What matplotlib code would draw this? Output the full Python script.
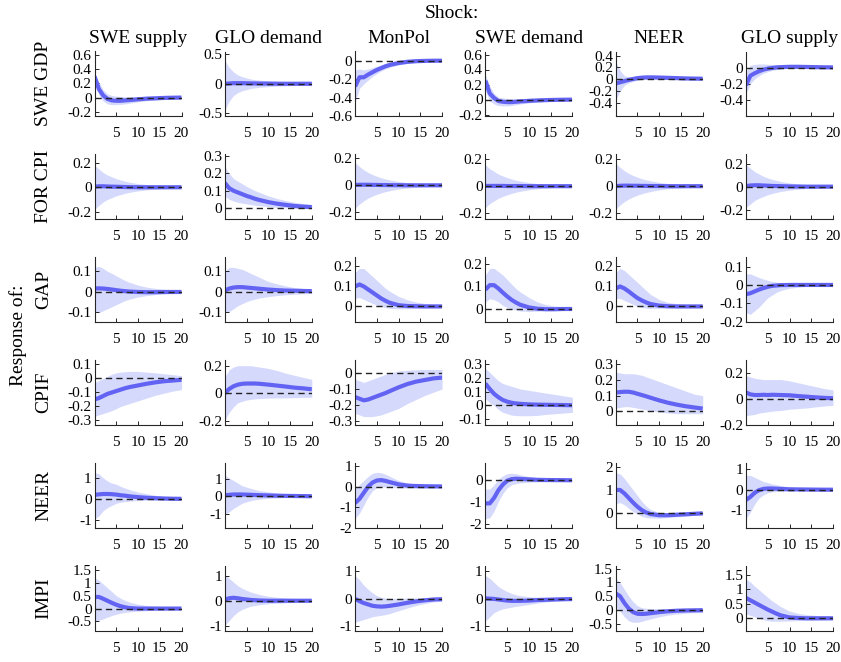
import matplotlib
matplotlib.use("Agg")
import matplotlib.pyplot as plt
from matplotlib.ticker import FuncFormatter

plt.rcParams['font.family'] = ['Liberation Serif', 'DejaVu Serif']
plt.rcParams['axes.unicode_minus'] = False

# horizon grid
horizon = [0, 1, 2, 3, 4, 5, 6, 7, 8, 10, 12, 14, 16, 18, 20]
shocks = ["SWE supply", "GLO demand", "MonPol", "SWE demand", "NEER", "GLO supply"]
responses = ["SWE GDP", "FOR CPI", "GAP", "CPIF", "NEER", "IMPI"]
xticks = [5, 10, 15, 20]

# ---------------- SWE GDP ----------------
gdp_mid = [
    [0.30, 0.12, 0.03, -0.02, -0.04, -0.045, -0.045, -0.04, -0.035, -0.025, -0.015, -0.01, -0.005, -0.002, 0.0],
    [0.0, 0.005, 0.01, 0.01, 0.01, 0.008, 0.006, 0.005, 0.004, 0.002, 0.001, 0.0, 0.0, 0.0, 0.0],
    [-0.28, -0.18, -0.18, -0.15, -0.125, -0.10, -0.08, -0.06, -0.045, -0.025, -0.012, -0.005, -0.002, 0.0, 0.0],
    [0.25, 0.08, 0.02, -0.02, -0.03, -0.035, -0.035, -0.03, -0.025, -0.018, -0.012, -0.008, -0.005, -0.003, -0.002],
    [-0.07, -0.05, -0.03, -0.01, 0.005, 0.02, 0.028, 0.032, 0.033, 0.03, 0.025, 0.02, 0.015, 0.012, 0.01],
    [-0.22, -0.10, -0.07, -0.045, -0.025, -0.012, -0.004, 0.002, 0.006, 0.01, 0.01, 0.008, 0.006, 0.004, 0.003],
]
gdp_lo = [
    [0.26, 0.04, -0.05, -0.09, -0.10, -0.10, -0.095, -0.09, -0.08, -0.06, -0.045, -0.035, -0.025, -0.02, -0.015],
    [-0.45, -0.3, -0.2, -0.15, -0.12, -0.1, -0.08, -0.07, -0.06, -0.05, -0.04, -0.035, -0.03, -0.03, -0.025],
    [-0.45, -0.30, -0.25, -0.21, -0.17, -0.14, -0.11, -0.09, -0.07, -0.045, -0.03, -0.02, -0.012, -0.008, -0.005],
    [0.12, -0.02, -0.06, -0.08, -0.085, -0.085, -0.08, -0.07, -0.06, -0.045, -0.035, -0.025, -0.02, -0.015, -0.012],
    [-0.35, -0.2, -0.1, -0.06, -0.035, -0.015, -0.005, 0.0, 0.003, 0.003, 0.0, -0.003, -0.005, -0.006, -0.007],
    [-0.32, -0.2, -0.14, -0.1, -0.07, -0.05, -0.035, -0.025, -0.015, -0.006, -0.003, -0.004, -0.005, -0.006, -0.006],
]
gdp_hi = [
    [0.34, 0.22, 0.11, 0.05, 0.03, 0.02, 0.015, 0.012, 0.012, 0.012, 0.012, 0.012, 0.012, 0.012, 0.012],
    [0.4, 0.28, 0.2, 0.15, 0.12, 0.1, 0.08, 0.07, 0.06, 0.05, 0.04, 0.035, 0.03, 0.03, 0.025],
    [-0.10, -0.09, -0.10, -0.09, -0.075, -0.06, -0.045, -0.035, -0.025, -0.01, 0.0, 0.005, 0.006, 0.006, 0.006],
    [0.33, 0.18, 0.08, 0.03, 0.02, 0.015, 0.012, 0.01, 0.01, 0.01, 0.01, 0.01, 0.01, 0.01, 0.01],
    [0.3, 0.15, 0.06, 0.045, 0.05, 0.058, 0.063, 0.065, 0.065, 0.06, 0.052, 0.045, 0.038, 0.032, 0.028],
    [-0.05, 0.03, 0.04, 0.045, 0.045, 0.042, 0.04, 0.038, 0.036, 0.032, 0.028, 0.024, 0.02, 0.017, 0.014],
]

# ---------------- FOR CPI ----------------
forcpi_mid = [
    [0.005, 0.008, 0.008, 0.006, 0.005, 0.004, 0.003, 0.002, 0.001, 0.0, 0.0, 0.0, 0.0, 0.0, 0.0],
    [0.145, 0.115, 0.1, 0.09, 0.08, 0.07, 0.062, 0.053, 0.046, 0.034, 0.025, 0.018, 0.012, 0.008, 0.005],
    [0.003, 0.004, 0.004, 0.004, 0.003, 0.003, 0.002, 0.002, 0.001, 0.001, 0.0, 0.0, 0.0, 0.0, 0.0],
    [0.002, 0.002, 0.002, 0.002, 0.002, 0.001, 0.001, 0.001, 0.001, 0.0, 0.0, 0.0, 0.0, 0.0, 0.0],
    [0.0, 0.003, 0.004, 0.004, 0.003, 0.003, 0.002, 0.002, 0.001, 0.001, 0.0, 0.0, 0.0, 0.0, 0.0],
    [0.005, 0.01, 0.012, 0.012, 0.01, 0.008, 0.006, 0.005, 0.004, 0.002, 0.001, 0.0, 0.0, 0.0, 0.0],
]
forcpi_lo = [
    [-0.18, -0.15, -0.12, -0.1, -0.085, -0.07, -0.06, -0.05, -0.042, -0.03, -0.022, -0.016, -0.012, -0.009, -0.007],
    [0.07, 0.05, 0.04, 0.033, 0.028, 0.024, 0.02, 0.016, 0.013, 0.008, 0.004, 0.001, -0.001, -0.002, -0.003],
    [-0.17, -0.14, -0.115, -0.095, -0.08, -0.067, -0.056, -0.047, -0.04, -0.028, -0.02, -0.015, -0.011, -0.008, -0.006],
    [-0.16, -0.13, -0.11, -0.09, -0.076, -0.064, -0.054, -0.045, -0.038, -0.027, -0.019, -0.014, -0.01, -0.008, -0.006],
    [-0.17, -0.14, -0.115, -0.095, -0.08, -0.067, -0.056, -0.047, -0.04, -0.028, -0.02, -0.015, -0.011, -0.008, -0.006],
    [-0.18, -0.15, -0.12, -0.1, -0.085, -0.07, -0.06, -0.05, -0.042, -0.03, -0.022, -0.016, -0.012, -0.009, -0.007],
]
forcpi_hi = [
    [0.18, 0.15, 0.12, 0.1, 0.085, 0.07, 0.06, 0.05, 0.042, 0.03, 0.022, 0.016, 0.012, 0.009, 0.007],
    [0.24, 0.2, 0.17, 0.155, 0.14, 0.125, 0.112, 0.1, 0.09, 0.07, 0.055, 0.043, 0.033, 0.026, 0.02],
    [0.17, 0.14, 0.115, 0.095, 0.08, 0.067, 0.056, 0.047, 0.04, 0.028, 0.02, 0.015, 0.011, 0.008, 0.006],
    [0.16, 0.13, 0.11, 0.09, 0.076, 0.064, 0.054, 0.045, 0.038, 0.027, 0.019, 0.014, 0.01, 0.008, 0.006],
    [0.17, 0.14, 0.115, 0.095, 0.08, 0.067, 0.056, 0.047, 0.04, 0.028, 0.02, 0.015, 0.011, 0.008, 0.006],
    [0.19, 0.16, 0.13, 0.11, 0.09, 0.075, 0.064, 0.054, 0.045, 0.032, 0.023, 0.017, 0.012, 0.009, 0.007],
]

# ---------------- GAP ----------------
gap_mid = [
    [0.015, 0.016, 0.015, 0.013, 0.01, 0.007, 0.004, 0.002, 0.0, -0.002, -0.003, -0.003, -0.002, -0.002, -0.002],
    [0.005, 0.015, 0.02, 0.022, 0.022, 0.02, 0.018, 0.016, 0.014, 0.01, 0.007, 0.005, 0.004, 0.003, 0.002],
    [0.10, 0.11, 0.10, 0.085, 0.07, 0.055, 0.04, 0.028, 0.018, 0.006, 0.002, 0.001, 0.0, 0.0, 0.0],
    [0.085, 0.105, 0.105, 0.09, 0.072, 0.055, 0.04, 0.028, 0.018, 0.006, 0.0, -0.002, -0.002, -0.001, -0.001],
    [0.09, 0.1, 0.09, 0.075, 0.058, 0.042, 0.03, 0.02, 0.012, 0.004, 0.001, 0.0, 0.0, 0.0, 0.0],
    [-0.05, -0.045, -0.035, -0.025, -0.017, -0.01, -0.005, -0.003, -0.001, 0.0, 0.0, 0.0, 0.0, 0.0, 0.0],
]
gap_lo = [
    [-0.10, -0.105, -0.095, -0.085, -0.075, -0.065, -0.055, -0.045, -0.038, -0.027, -0.02, -0.015, -0.012, -0.01, -0.008],
    [-0.1, -0.1, -0.085, -0.07, -0.06, -0.05, -0.043, -0.037, -0.032, -0.025, -0.02, -0.016, -0.013, -0.011, -0.01],
    [0.04, 0.045, 0.035, 0.025, 0.015, 0.006, 0.0, -0.006, -0.01, -0.012, -0.012, -0.01, -0.008, -0.007, -0.006],
    [0.03, 0.045, 0.04, 0.03, 0.015, 0.006, 0.0, -0.006, -0.01, -0.012, -0.011, -0.009, -0.008, -0.007, -0.006],
    [0.04, 0.04, 0.03, 0.02, 0.01, 0.0, -0.005, -0.008, -0.01, -0.01, -0.009, -0.008, -0.007, -0.006, -0.005],
    [-0.15, -0.16, -0.14, -0.12, -0.095, -0.07, -0.055, -0.04, -0.03, -0.018, -0.012, -0.008, -0.007, -0.006, -0.005],
]
gap_hi = [
    [0.12, 0.125, 0.115, 0.1, 0.09, 0.078, 0.066, 0.055, 0.046, 0.032, 0.022, 0.016, 0.011, 0.008, 0.006],
    [0.1, 0.12, 0.12, 0.115, 0.11, 0.1, 0.09, 0.08, 0.07, 0.05, 0.038, 0.028, 0.02, 0.015, 0.012],
    [0.17, 0.19, 0.19, 0.17, 0.15, 0.13, 0.11, 0.09, 0.075, 0.05, 0.033, 0.022, 0.015, 0.012, 0.01],
    [0.15, 0.18, 0.18, 0.165, 0.15, 0.13, 0.11, 0.09, 0.075, 0.05, 0.03, 0.018, 0.012, 0.01, 0.008],
    [0.17, 0.19, 0.18, 0.16, 0.14, 0.12, 0.1, 0.08, 0.06, 0.035, 0.02, 0.014, 0.01, 0.009, 0.008],
    [0.06, 0.06, 0.05, 0.04, 0.032, 0.025, 0.018, 0.015, 0.012, 0.008, 0.006, 0.005, 0.004, 0.003, 0.003],
]

# ---------------- CPIF ----------------
cpif_mid = [
    [-0.15, -0.14, -0.125, -0.11, -0.1, -0.09, -0.08, -0.07, -0.062, -0.05, -0.038, -0.028, -0.02, -0.015, -0.01],
    [0.0, 0.03, 0.05, 0.062, 0.068, 0.07, 0.07, 0.07, 0.068, 0.062, 0.055, 0.048, 0.04, 0.035, 0.028],
    [-0.15, -0.16, -0.17, -0.165, -0.155, -0.145, -0.135, -0.125, -0.113, -0.09, -0.07, -0.055, -0.045, -0.035, -0.03],
    [0.16, 0.12, 0.085, 0.06, 0.04, 0.028, 0.02, 0.015, 0.012, 0.008, 0.006, 0.005, 0.004, 0.003, 0.002],
    [0.12, 0.123, 0.125, 0.125, 0.12, 0.112, 0.104, 0.096, 0.087, 0.07, 0.055, 0.043, 0.033, 0.025, 0.018],
    [0.05, 0.035, 0.03, 0.03, 0.032, 0.03, 0.032, 0.031, 0.03, 0.028, 0.022, 0.017, 0.012, 0.008, 0.005],
]
cpif_lo = [
    [-0.27, -0.26, -0.25, -0.24, -0.23, -0.215, -0.2, -0.19, -0.18, -0.16, -0.14, -0.12, -0.105, -0.09, -0.08],
    [-0.2, -0.14, -0.1, -0.07, -0.06, -0.05, -0.045, -0.042, -0.04, -0.036, -0.035, -0.035, -0.033, -0.031, -0.03],
    [-0.25, -0.26, -0.27, -0.27, -0.27, -0.265, -0.26, -0.25, -0.24, -0.22, -0.19, -0.165, -0.14, -0.12, -0.1],
    [0.05, 0.02, 0.0, -0.03, -0.05, -0.06, -0.07, -0.073, -0.075, -0.075, -0.072, -0.065, -0.06, -0.055, -0.05],
    [0.02, 0.025, 0.03, 0.03, 0.025, 0.02, 0.015, 0.01, 0.005, -0.005, -0.01, -0.015, -0.015, -0.015, -0.015],
    [-0.13, -0.125, -0.12, -0.11, -0.105, -0.1, -0.095, -0.092, -0.09, -0.08, -0.075, -0.07, -0.062, -0.055, -0.05],
]
cpif_hi = [
    [-0.03, -0.015, 0.0, 0.015, 0.03, 0.04, 0.045, 0.048, 0.05, 0.05, 0.045, 0.04, 0.033, 0.027, 0.02],
    [0.12, 0.17, 0.19, 0.2, 0.2, 0.2, 0.2, 0.195, 0.19, 0.18, 0.165, 0.145, 0.13, 0.115, 0.1],
    [-0.04, -0.05, -0.06, -0.05, -0.04, -0.03, -0.02, -0.01, 0.0, 0.01, 0.015, 0.018, 0.02, 0.02, 0.02],
    [0.27, 0.24, 0.21, 0.18, 0.16, 0.15, 0.14, 0.13, 0.12, 0.11, 0.1, 0.09, 0.08, 0.07, 0.06],
    [0.25, 0.245, 0.24, 0.24, 0.24, 0.235, 0.23, 0.22, 0.21, 0.19, 0.17, 0.15, 0.13, 0.11, 0.1],
    [0.18, 0.17, 0.16, 0.155, 0.15, 0.15, 0.15, 0.15, 0.15, 0.14, 0.125, 0.11, 0.095, 0.08, 0.07],
]

# ---------------- NEER ----------------
neer_mid = [
    [0.2, 0.22, 0.24, 0.24, 0.23, 0.21, 0.18, 0.16, 0.13, 0.09, 0.06, 0.04, 0.025, 0.015, 0.01],
    [0.05, 0.08, 0.1, 0.1, 0.1, 0.09, 0.08, 0.07, 0.06, 0.045, 0.03, 0.02, 0.012, 0.006, 0.0],
    [-0.8, -0.6, -0.3, 0.0, 0.2, 0.3, 0.32, 0.28, 0.22, 0.11, 0.05, 0.03, 0.02, 0.015, 0.01],
    [-1.05, -1.05, -0.8, -0.45, -0.2, -0.02, 0.05, 0.07, 0.06, 0.04, 0.02, 0.012, 0.008, 0.004, 0.0],
    [1.0, 1.0, 0.85, 0.65, 0.45, 0.27, 0.12, 0.02, -0.05, -0.1, -0.1, -0.08, -0.06, -0.04, -0.02],
    [-0.5, -0.35, -0.15, -0.02, 0.04, 0.06, 0.06, 0.05, 0.04, 0.02, 0.015, 0.01, 0.005, 0.002, 0.0],
]
neer_lo = [
    [-0.95, -0.8, -0.55, -0.4, -0.3, -0.2, -0.15, -0.12, -0.1, -0.07, -0.06, -0.05, -0.045, -0.04, -0.04],
    [-1.05, -0.9, -0.7, -0.55, -0.4, -0.32, -0.25, -0.2, -0.17, -0.12, -0.1, -0.08, -0.065, -0.055, -0.05],
    [-1.55, -1.3, -0.9, -0.5, -0.2, -0.05, 0.0, -0.02, -0.04, -0.06, -0.07, -0.07, -0.06, -0.055, -0.05],
    [-1.75, -1.7, -1.4, -0.95, -0.6, -0.35, -0.2, -0.15, -0.12, -0.09, -0.075, -0.065, -0.06, -0.055, -0.05],
    [0.4, 0.45, 0.35, 0.2, 0.05, -0.05, -0.15, -0.2, -0.22, -0.23, -0.2, -0.17, -0.14, -0.11, -0.09],
    [-1.4, -1.1, -0.7, -0.4, -0.25, -0.15, -0.1, -0.09, -0.08, -0.06, -0.05, -0.04, -0.035, -0.03, -0.03],
]
neer_hi = [
    [1.25, 1.2, 1.0, 0.85, 0.75, 0.7, 0.6, 0.52, 0.45, 0.33, 0.25, 0.18, 0.13, 0.1, 0.07],
    [1.2, 1.05, 0.9, 0.75, 0.6, 0.52, 0.45, 0.38, 0.32, 0.25, 0.18, 0.13, 0.1, 0.08, 0.07],
    [-0.1, 0.1, 0.3, 0.5, 0.65, 0.7, 0.68, 0.6, 0.5, 0.3, 0.18, 0.12, 0.1, 0.08, 0.07],
    [-0.4, -0.4, -0.2, 0.05, 0.2, 0.3, 0.32, 0.3, 0.25, 0.17, 0.12, 0.09, 0.07, 0.06, 0.05],
    [1.75, 1.7, 1.5, 1.25, 1.0, 0.75, 0.5, 0.3, 0.15, 0.02, 0.0, 0.01, 0.02, 0.03, 0.04],
    [0.7, 0.7, 0.6, 0.5, 0.4, 0.35, 0.28, 0.24, 0.2, 0.13, 0.1, 0.07, 0.055, 0.045, 0.04],
]

# ---------------- IMPI ----------------
impi_mid = [
    [0.45, 0.45, 0.38, 0.3, 0.22, 0.15, 0.09, 0.05, 0.02, 0.0, 0.0, 0.0, 0.0, 0.0, 0.0],
    [0.05, 0.1, 0.12, 0.1, 0.07, 0.05, 0.03, 0.02, 0.01, 0.0, 0.0, 0.0, 0.0, 0.0, 0.0],
    [0.0, -0.08, -0.15, -0.2, -0.25, -0.27, -0.28, -0.27, -0.25, -0.2, -0.14, -0.09, -0.05, -0.02, -0.01],
    [0.02, 0.01, 0.0, -0.02, -0.04, -0.06, -0.07, -0.07, -0.07, -0.06, -0.04, -0.03, -0.02, -0.01, -0.005],
    [0.6, 0.5, 0.25, 0.05, -0.08, -0.14, -0.15, -0.14, -0.12, -0.08, -0.05, -0.03, -0.02, -0.015, -0.01],
    [0.7, 0.62, 0.54, 0.46, 0.38, 0.3, 0.23, 0.16, 0.1, 0.03, 0.01, 0.0, 0.0, 0.0, 0.0],
]
impi_lo = [
    [-0.5, -0.45, -0.4, -0.33, -0.27, -0.22, -0.18, -0.15, -0.13, -0.1, -0.08, -0.065, -0.055, -0.045, -0.04],
    [-1.0, -0.8, -0.6, -0.45, -0.35, -0.28, -0.22, -0.19, -0.16, -0.12, -0.1, -0.085, -0.07, -0.06, -0.05],
    [-0.85, -0.8, -0.75, -0.7, -0.65, -0.62, -0.6, -0.57, -0.53, -0.43, -0.33, -0.24, -0.17, -0.11, -0.08],
    [-0.8, -0.65, -0.5, -0.42, -0.36, -0.33, -0.3, -0.27, -0.25, -0.2, -0.15, -0.11, -0.08, -0.06, -0.05],
    [0.1, -0.05, -0.25, -0.4, -0.45, -0.45, -0.42, -0.37, -0.33, -0.25, -0.19, -0.15, -0.12, -0.1, -0.1],
    [0.15, 0.1, 0.05, 0.0, -0.05, -0.08, -0.1, -0.1, -0.1, -0.09, -0.08, -0.07, -0.06, -0.055, -0.05],
]
impi_hi = [
    [1.2, 1.1, 0.95, 0.8, 0.65, 0.5, 0.4, 0.32, 0.25, 0.17, 0.12, 0.09, 0.07, 0.06, 0.05],
    [1.05, 0.9, 0.75, 0.6, 0.5, 0.42, 0.35, 0.3, 0.25, 0.18, 0.14, 0.11, 0.09, 0.07, 0.06],
    [0.85, 0.7, 0.5, 0.35, 0.22, 0.12, 0.06, 0.03, 0.02, 0.02, 0.03, 0.035, 0.04, 0.04, 0.04],
    [0.85, 0.75, 0.6, 0.45, 0.35, 0.27, 0.2, 0.15, 0.12, 0.08, 0.06, 0.05, 0.045, 0.04, 0.04],
    [1.15, 1.0, 0.75, 0.5, 0.3, 0.15, 0.08, 0.06, 0.05, 0.05, 0.05, 0.05, 0.05, 0.05, 0.05],
    [1.35, 1.25, 1.1, 0.98, 0.85, 0.72, 0.6, 0.5, 0.4, 0.25, 0.17, 0.12, 0.1, 0.08, 0.07],
]

# axis limits and tick values per panel
ylims = [
    [(-0.26, 0.65), (-0.55, 0.55), (-0.6, 0.1), (-0.22, 0.64), (-0.62, 0.47), (-0.6, 0.2)],
    [(-0.26, 0.27), (-0.063, 0.31), (-0.25, 0.23), (-0.244, 0.237), (-0.244, 0.237), (-0.28, 0.28)],
    [(-0.15, 0.17), (-0.15, 0.17), (-0.077, 0.246), (-0.058, 0.229), (-0.077, 0.246), (-0.2, 0.15)],
    [(-0.33, 0.13), (-0.23, 0.24), (-0.32, 0.077), (-0.14, 0.33), (-0.085, 0.326), (-0.2, 0.3)],
    [(-1.35, 1.7), (-1.8, 1.9), (-2.0, 1.15), (-2.15, 0.78), (-0.64, 2.17), (-1.85, 1.3)],
    [(-0.85, 1.65), (-1.2, 1.4), (-1.15, 1.2), (-1.15, 1.2), (-0.75, 1.6), (-0.42, 1.8)],
]
yticks = [
    [[-0.2, 0, 0.2, 0.4, 0.6], [-0.5, 0, 0.5], [-0.6, -0.4, -0.2, 0], [-0.2, 0, 0.2, 0.4, 0.6], [-0.4, -0.2, 0, 0.2, 0.4], [-0.4, -0.2, 0]],
    [[-0.2, 0, 0.2], [0, 0.1, 0.2, 0.3], [-0.2, 0, 0.2], [-0.2, 0, 0.2], [-0.2, 0, 0.2], [-0.2, 0, 0.2]],
    [[-0.1, 0, 0.1], [-0.1, 0, 0.1], [0, 0.1, 0.2], [0, 0.1, 0.2], [0, 0.1, 0.2], [-0.2, -0.1, 0, 0.1]],
    [[-0.3, -0.2, -0.1, 0, 0.1], [-0.2, 0, 0.2], [-0.3, -0.2, -0.1, 0], [-0.1, 0, 0.1, 0.2, 0.3], [0, 0.1, 0.2, 0.3], [-0.2, 0, 0.2]],
    [[-1, 0, 1], [-1, 0, 1], [-2, -1, 0, 1], [-2, -1, 0], [0, 1, 2], [-1, 0, 1]],
    [[-0.5, 0, 0.5, 1, 1.5], [-1, 0, 1], [-1, 0, 1], [-1, 0, 1], [-0.5, 0, 0.5, 1, 1.5], [0, 0.5, 1, 1.5]],
]

mids = [gdp_mid, forcpi_mid, gap_mid, cpif_mid, neer_mid, impi_mid]
los = [gdp_lo, forcpi_lo, gap_lo, cpif_lo, neer_lo, impi_lo]
his = [gdp_hi, forcpi_hi, gap_hi, cpif_hi, neer_hi, impi_hi]

W, H = 841, 662
fig = plt.figure(figsize=(W / 100, H / 100), dpi=100)

band_col = '#d5dafd'
line_col = '#6363f3'
fmt = FuncFormatter(lambda v, p: ('%g' % round(v, 3)))

ax_left0, col_step, ax_w = 94.5, 130.3, 87.0
ax_bot0, row_step, ax_h = 116.0, 102.9, 64.5

for r in range(6):
    for c in range(6):
        left = (ax_left0 + c * col_step) / W
        bottom = 1 - (ax_bot0 + r * row_step) / H
        ax = fig.add_axes([left, bottom, ax_w / W, ax_h / H])
        ax.fill_between(horizon, los[r][c], his[r][c], color=band_col, lw=0, zorder=1)
        ax.plot(horizon, mids[r][c], color=line_col, lw=3.0, zorder=2, solid_capstyle='butt')
        ax.axhline(0, color='#222222', lw=1.0, ls=(0, (4.5, 3)), zorder=3)
        ax.set_xlim(0, 20)
        ax.set_ylim(*ylims[r][c])
        ax.set_xticks(xticks)
        ax.set_yticks(yticks[r][c])
        ax.yaxis.set_major_formatter(fmt)
        for s in ['top', 'right']:
            ax.spines[s].set_visible(False)
        for s in ['left', 'bottom']:
            ax.spines[s].set_linewidth(0.8)
            ax.spines[s].set_color('#262626')
        ax.tick_params(direction='in', length=3, width=0.7, labelsize=11, pad=2,
                       colors='#262626', labelcolor='black')
        ax.tick_params(axis='x', pad=8)
        if r == 0:
            ax.set_title(shocks[c], fontsize=14, pad=6)
        if c == 0:
            yc = 1 - (ax_bot0 + r * row_step - ax_h / 2) / H
            fig.text(44 / W, yc, responses[r], rotation=90, ha='center', va='center', fontsize=14)

fig.text(452 / W, 1 - 13 / H, "Shock:", ha='center', va='center', fontsize=14)
fig.text(18 / W, 1 - 335 / H, "Response of:", rotation=90, ha='center', va='center', fontsize=14)

fig.savefig('out.png', dpi=100)
